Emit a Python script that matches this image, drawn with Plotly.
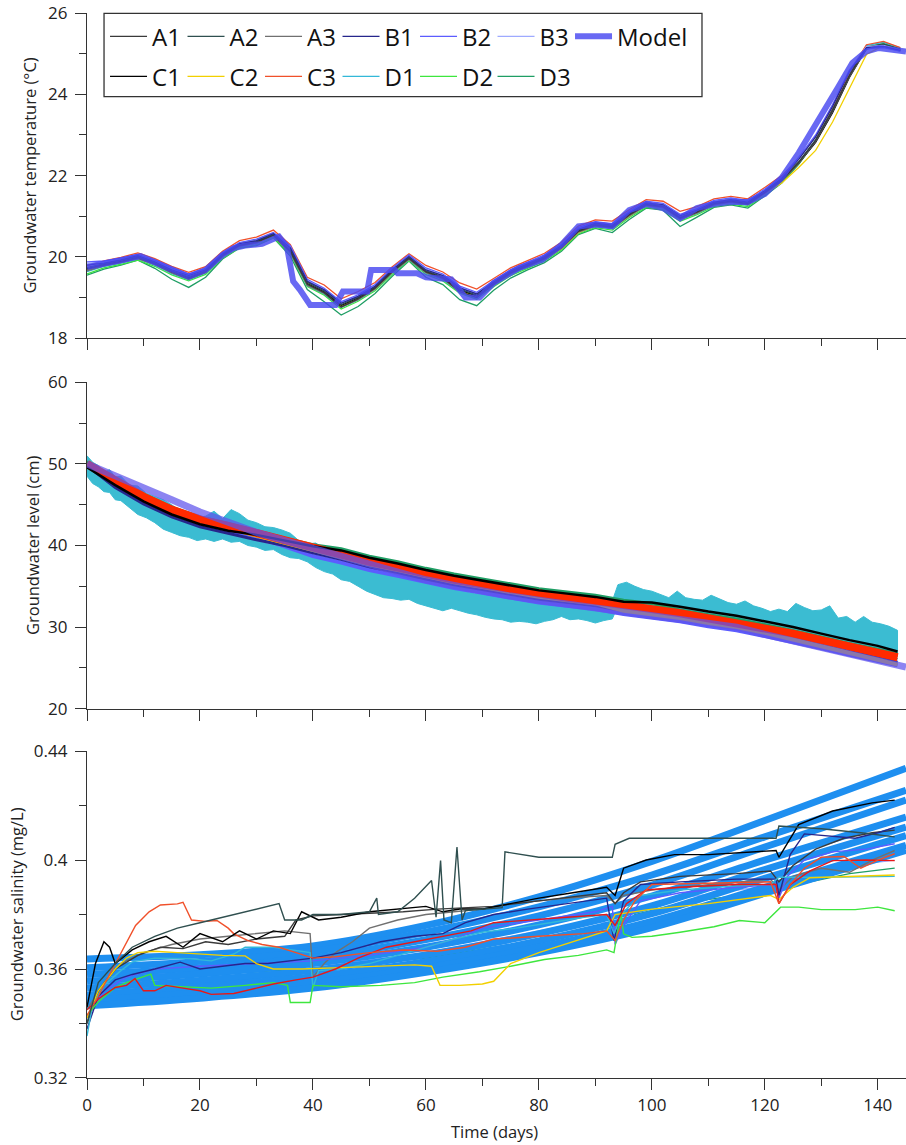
import plotly.graph_objects as go

# ------------------------------------------------------------------ DATA
SENSORS = ["A1", "A2", "A3", "B1", "B2", "B3", "C1", "C2", "C3", "D1", "D2", "D3"]
COLORS = {"A1": "#3a3a3a", "A2": "#2f4f4f", "A3": "#707070", "B1": "#26268c",
          "B2": "#5c5cff", "B3": "#9eaaff", "C1": "#000000", "C2": "#f2d000",
          "C3": "#f0502a", "D1": "#33b8d8", "D2": "#3ee63e", "D3": "#1f9e64"}

# ---- panel 1: groundwater temperature (deg C), sampled every 3 days
DAYS_T = list(range(0, 145, 3))
TEMP = {
 "A1": [19.70,19.80,19.88,19.98,19.83,19.63,19.47,19.63,20.03,20.28,20.36,20.53,20.13,19.33,19.12,18.77,18.97,19.23,19.63,19.96,19.63,19.48,19.15,19.00,19.33,19.60,19.78,19.96,20.23,20.63,20.78,20.73,21.03,21.28,21.23,20.95,21.10,21.30,21.36,21.30,21.58,21.88,22.32,22.86,23.60,24.46,25.13,25.20,25.08],
 "A2": [19.74,19.83,19.91,20.01,19.86,19.66,19.51,19.66,20.05,20.30,20.39,20.55,20.18,19.38,19.16,18.83,19.01,19.26,19.66,19.99,19.66,19.51,19.21,19.06,19.36,19.63,19.81,19.99,20.26,20.66,20.81,20.76,21.06,21.31,21.26,20.98,21.13,21.33,21.39,21.33,21.61,21.91,22.34,22.88,23.63,24.49,25.16,25.24,25.11],
 "A3": [19.66,19.78,19.86,19.96,19.81,19.61,19.45,19.61,20.01,20.26,20.34,20.51,20.10,19.30,19.10,18.76,18.95,19.21,19.61,19.94,19.61,19.46,19.14,19.00,19.31,19.58,19.76,19.94,20.21,20.61,20.76,20.71,21.01,21.26,21.21,20.92,21.08,21.28,21.34,21.28,21.56,21.86,22.30,22.84,23.58,24.44,25.11,25.18,25.06],
 "B1": [19.80,19.85,19.93,20.03,19.88,19.68,19.54,19.68,20.07,20.32,20.40,20.57,20.22,19.40,19.19,18.86,19.03,19.28,19.68,20.01,19.68,19.54,19.24,19.09,19.38,19.65,19.83,20.01,20.28,20.68,20.83,20.78,21.08,21.33,21.28,21.01,21.15,21.35,21.41,21.35,21.63,21.93,22.40,22.95,23.70,24.56,25.15,25.18,25.08],
 "B2": [19.88,19.90,19.97,20.06,19.92,19.73,19.58,19.72,20.10,20.35,20.44,20.60,20.28,19.45,19.23,18.90,19.07,19.32,19.72,20.05,19.73,19.58,19.28,19.13,19.42,19.69,19.87,20.05,20.32,20.72,20.87,20.82,21.12,21.37,21.32,21.05,21.19,21.39,21.45,21.39,21.67,21.97,22.45,23.00,23.75,24.60,25.13,25.15,25.06],
 "B3": [19.84,19.87,19.95,20.05,19.90,19.70,19.55,19.70,20.09,20.34,20.42,20.59,20.25,19.42,19.20,18.87,19.05,19.30,19.70,20.03,19.70,19.55,19.25,19.10,19.40,19.67,19.85,20.03,20.30,20.70,20.85,20.80,21.10,21.35,21.30,21.02,21.17,21.37,21.43,21.37,21.65,21.95,22.42,22.97,23.72,24.58,25.17,25.20,25.09],
 "C1": [19.71,19.81,19.89,19.99,19.84,19.64,19.49,19.64,20.04,20.29,20.37,20.54,20.14,19.34,19.14,18.81,18.99,19.24,19.64,19.97,19.64,19.49,19.19,19.04,19.34,19.61,19.79,19.97,20.24,20.64,20.79,20.74,21.04,21.29,21.24,20.96,21.11,21.31,21.37,21.31,21.59,21.89,22.30,22.82,23.55,24.42,25.12,25.22,25.10],
 "C2": [19.68,19.79,19.87,19.97,19.82,19.62,19.47,19.62,20.01,20.27,20.35,20.52,20.16,19.36,19.12,18.79,18.96,19.21,19.61,19.95,19.62,19.47,19.17,19.02,19.32,19.59,19.77,19.95,20.20,20.60,20.77,20.72,21.00,21.27,21.22,20.94,21.09,21.29,21.35,21.29,21.56,21.82,22.20,22.62,23.32,24.15,24.98,25.20,25.08],
 "C3": [19.78,19.90,19.99,20.10,19.96,19.77,19.62,19.76,20.14,20.40,20.49,20.66,20.30,19.50,19.31,18.97,19.15,19.37,19.75,20.08,19.79,19.63,19.36,19.21,19.47,19.73,19.91,20.09,20.36,20.76,20.91,20.88,21.16,21.41,21.37,21.12,21.24,21.43,21.49,21.43,21.71,22.00,22.42,22.96,23.70,24.55,25.22,25.30,25.15],
 "D1": [19.64,19.77,19.85,19.95,19.80,19.59,19.44,19.60,20.00,20.25,20.33,20.50,20.12,19.30,19.09,18.76,18.94,19.20,19.60,19.93,19.60,19.44,19.14,18.99,19.30,19.57,19.75,19.93,20.20,20.60,20.75,20.70,21.00,21.25,21.20,20.92,21.07,21.27,21.33,21.27,21.55,21.86,22.32,22.88,23.62,24.50,25.20,25.28,25.14],
 "D2": [19.58,19.73,19.82,19.92,19.77,19.56,19.41,19.57,19.97,20.22,20.30,20.47,20.08,19.27,19.06,18.72,18.91,19.17,19.57,19.92,19.57,19.41,19.11,18.96,19.27,19.54,19.72,19.90,20.17,20.57,20.72,20.66,20.97,21.22,21.17,20.88,21.04,21.24,21.30,21.24,21.52,21.84,22.30,22.86,23.62,24.48,25.16,25.25,25.12],
 "D3": [19.55,19.70,19.80,19.92,19.72,19.45,19.25,19.50,19.95,20.22,20.28,20.47,20.02,19.20,18.90,18.57,18.78,19.10,19.52,19.90,19.50,19.32,18.95,18.80,19.18,19.48,19.68,19.86,20.14,20.55,20.70,20.60,20.92,21.20,21.15,20.75,20.98,21.22,21.28,21.20,21.50,21.82,22.28,22.85,23.60,24.46,25.12,25.22,25.10],
}
MODEL_T_DAYS = [0,3,6,9.5,12,15,18,21,24,26,28,31,34,35.4,36.5,37.7,39.5,44,45.3,49.6,50.3,54.5,55,58.4,60,64.5,67,69.5,72,76.5,80.6,84,87,90,93,96,99,102,105,108,111,114,117,120,123,126,129.6,133,135.5,137.9,140.2,145]
MODEL_T = [19.75,19.85,19.92,20.02,19.88,19.70,19.52,19.68,20.05,20.22,20.28,20.32,20.50,20.25,19.40,19.19,18.82,18.82,19.15,19.15,19.68,19.68,19.60,19.60,19.50,19.45,19.00,19.00,19.36,19.73,19.93,20.30,20.75,20.80,20.75,21.15,21.30,21.20,20.95,21.20,21.30,21.35,21.35,21.55,21.95,22.56,23.37,24.18,24.77,25.05,25.14,25.05]

# ---- panel 2: groundwater level (cm), sampled every 5 days
DAYS_L = list(range(0, 141, 5)) + [143.5]
LEVEL = {
 "A1": [50.1,48.1,46.1,44.5,43.3,42.5,41.6,40.7,39.8,39.0,38.1,37.4,36.6,35.9,35.3,34.7,34.1,33.7,33.3,32.7,32.3,31.8,31.2,30.7,30.0,29.3,28.5,27.7,27.0,26.4],
 "A2": [49.8,47.8,45.8,44.2,43.0,42.2,41.3,40.4,39.5,38.7,37.8,37.1,36.3,35.6,35.0,34.4,33.8,33.4,33.0,32.4,32.0,31.5,30.9,30.4,29.7,29.0,28.2,27.4,26.7,26.1],
 "A3": [50.3,48.3,46.3,44.7,43.5,42.7,41.8,40.9,40.0,39.2,38.3,37.6,36.8,36.1,35.5,34.9,34.3,33.9,33.5,32.9,32.5,32.0,31.4,30.9,30.2,29.5,28.7,27.9,27.2,26.6],
 "B1": [49.8,47.1,45.1,43.5,42.3,41.5,40.7,40.0,39.1,38.3,37.4,36.7,35.9,35.2,34.6,34.0,33.4,33.0,32.6,32.0,31.6,31.1,30.5,30.0,29.3,28.6,27.8,27.0,26.3,25.7],
 "B2": [50.0,47.5,45.5,43.9,42.7,41.9,41.0,39.9,38.7,37.9,37.0,36.3,35.5,34.8,34.2,33.6,33.0,32.6,32.2,31.6,31.2,30.7,30.1,29.6,28.9,28.2,27.4,26.6,25.9,25.3],
 "B3": [49.9,47.3,45.3,43.7,42.5,41.7,40.8,39.9,39.0,38.2,37.3,36.6,35.8,35.1,34.5,33.9,33.3,32.9,32.5,31.9,31.5,31.0,30.4,29.9,29.2,28.5,27.7,26.9,26.2,25.6],
 "C1": [49.6,47.4,45.4,43.8,42.6,41.8,41.3,40.6,39.9,39.4,38.5,37.8,37.0,36.3,35.7,35.1,34.5,34.1,33.7,33.1,33.0,32.5,31.9,31.4,30.7,30.0,29.2,28.4,27.7,27.0],
 "C2": [49.8,47.7,45.7,44.1,42.9,42.1,41.2,40.3,39.4,38.6,37.7,37.0,36.2,35.5,34.9,34.3,33.7,33.3,32.9,32.0,31.6,31.1,30.5,30.0,29.3,28.5,27.7,26.8,26.0,25.4],
 "C3": [50.0,48.0,46.0,44.4,43.2,42.4,41.5,40.6,39.7,38.9,38.0,37.3,36.5,35.8,35.2,34.6,34.0,33.6,33.2,32.6,32.2,31.7,31.1,30.6,29.9,29.2,28.4,27.6,26.9,26.3],
 "D2": [50.2,48.2,46.2,44.6,43.4,42.6,41.7,40.8,39.9,39.1,38.2,37.5,36.7,36.0,35.4,34.8,34.2,33.8,33.4,32.8,32.4,31.9,31.3,30.8,30.1,29.4,28.6,27.8,27.1,26.5],
 "D3": [50.2,48.3,46.3,44.7,43.5,42.7,41.8,40.9,40.1,39.6,38.7,38.0,37.2,36.5,35.9,35.3,34.7,34.3,33.9,33.3,32.9,32.1,31.5,31.0,30.3,29.6,28.8,28.0,27.3,26.7],
}
# D1 level is very noisy: its lower and upper envelope, read every ~1.5-3 days
DAYS_D1 = [0,1,2,3,4,5,6,7.5,9,10.5,12,13.5,15,16.5,18,19.5,21,22.5,24,25.5,27,28.5,30,31.5,33,34.5,36,37.5,39,40.5,42,43.5,45,46.5,48,49.5,51,52.5,54,55.5,57,58.5,60,61.5,63,64.5,66,67.5,69,70.5,72,73.5,75,76.5,78,79.5,81,82.5,84,85.5,87,88.5,90,91.5,93,94,95.5,97,98.5,100,101.5,103,104.5,106,107.5,109,110.5,112,113.5,115,116.5,118,119.5,121,122.5,124,125.5,127,128.5,130,131.5,133,134.5,136,137.5,139,140.5,142,143.5]
D1_HIGH = [51.0,50.2,49.8,49.0,49.3,48.4,48.5,47.4,47.3,46.4,46.0,45.6,45.0,44.2,44.0,43.4,43.6,44.2,43.3,44.4,43.9,43.1,42.8,42.3,42.2,41.9,41.5,40.6,40.2,40.3,39.6,39.4,38.9,38.2,37.6,37.9,37.0,36.7,36.6,36.9,36.1,35.8,35.5,35.6,35.0,34.8,34.6,34.3,34.1,34.2,33.8,33.6,33.5,33.9,33.6,33.4,33.4,33.7,33.5,33.2,33.0,33.3,33.0,32.8,33.2,35.2,35.5,35.0,34.6,34.4,34.0,33.6,34.4,33.6,33.4,33.3,33.9,33.4,33.0,32.8,33.2,32.6,32.3,31.9,32.2,31.9,32.9,32.4,32.0,32.1,32.6,31.1,31.3,30.6,31.3,30.6,30.4,30.1,29.6]
D1_LOW = [48.5,47.6,47.2,46.6,46.5,45.6,45.5,44.6,43.8,43.4,42.8,42.0,41.6,41.2,41.0,40.6,40.8,40.5,40.8,40.4,40.5,40.0,39.8,39.4,39.5,38.9,38.5,38.4,38.0,37.3,36.8,36.5,35.8,35.6,35.0,34.4,34.0,33.6,33.5,33.3,33.4,32.9,32.6,32.3,32.0,32.3,32.0,31.7,31.5,31.2,31.0,30.9,30.6,30.7,30.6,30.4,30.7,30.9,31.3,30.9,31.0,30.8,30.5,30.8,31.0,32.6,32.4,32.6,32.3,32.4,32.0,32.1,31.8,31.9,31.7,31.5,31.1,31.2,30.9,30.8,30.7,30.5,30.4,30.2,29.9,29.9,29.7,29.4,29.0,28.8,28.6,28.3,28.0,27.6,27.4,27.2,27.0,26.8,26.6]
MODEL_L_DAYS = list(range(0, 146, 5))
MODEL_L = [50.0,48.6,47.1,45.6,44.1,42.8,41.6,40.6,39.6,38.6,37.6,36.7,35.8,35.1,34.4,33.8,33.3,32.8,32.3,31.8,31.4,30.9,30.5,30.0,29.1,28.3,27.6,26.8,26.0,25.1]

# ---- panel 3: groundwater salinity (mg/L)
SAL_DAYS = {
 "A1": [0,2,5,9,13,17,21,25,30,35,37,40,45,50,56,62,68,72,80,88,92,93.5,95,98,105,115,121,122.5,125,129,134,139,143],
 "A2": [0,2,5,8,12,16,20,24,28,32,34,35,38,40,45,50,51.3,51.6,55,58,61,61.8,62.6,63.2,64.5,65.5,66.4,67,73.5,74,80,93,93.5,96,122,122.5,130,137,143],
 "A3": [0,3,6,10,15,20,25,30,35,39.5,40,42,44,47,50,55,60,65,70,75,80,85,92,93.5,95,100,105,110,115,121,122.5,125,130,135,139,143],
 "B1": [0,2,5,8,12,16.5,20,24,28,32,36,40,45,52,58,63,67,72,78,85,92,93.3,95,98,105,115,122,122.5,124.5,127,130,136,140,143],
 "B2": [0,3,7,12,20,30,40,50,60,65,70,80,90,93,93.5,95,98,105,115,122,122.5,124,127,132,138,143],
 "B3": [0,5,15,30,45,60,75,90,93.5,97,105,115,122,128,135,143],
 "C1": [0,1.5,3,4,5,8,11,14,17,20,24,27,30,33,36,38,41,45,50,55,60,63,66,70,75,80,86,92,93.5,95,99,104,110,118,122,122.5,126,132,139,143],
 "C2": [0,2,5,7,9,12,16,20,24,28,30,33,38,45,52,58,61,62.5,66,70,72,75,80,86,92,93.5,95,100,110,118,121,122.5,125,128,135,143],
 "C3": [0,2,4,6,8.6,11,13,16,17,18.5,21,23,25,26,28.5,31,34,37,40,44,50,56,62,67,72,80,88,92,93.5,95,97,100,110,121,122.5,124.5,127,130,134,137,140,143],
 "D1": [0,1,3,6,8,12,18,22,26,28,33,37,39.5,40,41,45,50,55,60,65,70,76,82,88,92,93.3,95,98,105,115,121,122.5,130,143],
 "D2": [0,2,5,7,9,11.3,12,16,22,28,33,35.5,36,39.5,40,45,52,58,63,69.5,75,81,87,92,93.3,94.5,95,96.5,100,105,111,115.5,120,122.8,126,130,136,140,143],
 "D3": [0,4,10,20,30,45,60,75,90,93.5,97,105,115,122,128,135,143],
}
SAL = {
 "A1": [0.340,0.352,0.360,0.365,0.368,0.3675,0.370,0.369,0.371,0.372,0.378,0.3795,0.380,0.3805,0.381,0.382,0.3825,0.383,0.385,0.387,0.388,0.384,0.388,0.392,0.394,0.395,0.396,0.392,0.398,0.404,0.408,0.410,0.411],
 "A2": [0.340,0.355,0.362,0.368,0.372,0.375,0.377,0.379,0.381,0.383,0.384,0.378,0.378,0.380,0.380,0.381,0.386,0.380,0.381,0.386,0.3925,0.379,0.3998,0.378,0.377,0.4048,0.378,0.3815,0.3825,0.403,0.401,0.401,0.4058,0.408,0.408,0.4125,0.4115,0.410,0.4085],
 "A3": [0.345,0.355,0.362,0.366,0.369,0.371,0.372,0.373,0.374,0.373,0.357,0.362,0.366,0.370,0.375,0.378,0.380,0.381,0.382,0.384,0.385,0.386,0.387,0.384,0.387,0.389,0.390,0.391,0.392,0.393,0.389,0.394,0.397,0.3955,0.400,0.4035],
 "B1": [0.338,0.350,0.356,0.358,0.360,0.3625,0.360,0.361,0.362,0.362,0.363,0.364,0.366,0.370,0.372,0.373,0.377,0.380,0.382,0.384,0.386,0.3704,0.385,0.391,0.392,0.393,0.393,0.387,0.402,0.4096,0.409,0.408,0.410,0.412],
 "B2": [0.342,0.352,0.357,0.360,0.361,0.362,0.363,0.365,0.368,0.371,0.375,0.378,0.381,0.383,0.369,0.376,0.385,0.388,0.390,0.391,0.386,0.394,0.400,0.403,0.404,0.406],
 "B3": [0.348,0.356,0.359,0.360,0.362,0.366,0.372,0.378,0.376,0.382,0.386,0.389,0.391,0.394,0.398,0.400],
 "C1": [0.346,0.362,0.370,0.368,0.362,0.367,0.370,0.372,0.368,0.373,0.370,0.374,0.371,0.374,0.373,0.381,0.378,0.379,0.381,0.382,0.383,0.381,0.382,0.382,0.384,0.386,0.388,0.390,0.387,0.397,0.400,0.402,0.402,0.403,0.4035,0.401,0.413,0.418,0.421,0.422],
 "C2": [0.342,0.352,0.360,0.364,0.366,0.3665,0.366,0.3655,0.365,0.3648,0.362,0.360,0.360,0.3605,0.361,0.3615,0.361,0.354,0.354,0.3545,0.3555,0.362,0.366,0.370,0.374,0.380,0.3805,0.382,0.384,0.386,0.387,0.3855,0.390,0.3935,0.394,0.3945],
 "C3": [0.343,0.350,0.358,0.366,0.376,0.381,0.3835,0.3839,0.3845,0.378,0.3775,0.3778,0.375,0.3729,0.3704,0.369,0.368,0.366,0.364,0.3645,0.366,0.367,0.3665,0.368,0.371,0.372,0.373,0.374,0.3705,0.378,0.385,0.391,0.3915,0.392,0.384,0.391,0.397,0.401,0.4013,0.397,0.400,0.4023],
 "D1": [0.3354,0.347,0.354,0.3594,0.3626,0.364,0.3638,0.363,0.3655,0.368,0.368,0.3667,0.366,0.353,0.3594,0.360,0.362,0.365,0.368,0.371,0.3735,0.375,0.377,0.379,0.380,0.373,0.381,0.387,0.389,0.3905,0.391,0.3937,0.3937,0.394],
 "D2": [0.343,0.348,0.3532,0.355,0.3565,0.3581,0.354,0.3535,0.353,0.354,0.355,0.354,0.3477,0.3477,0.354,0.3535,0.354,0.355,0.357,0.359,0.361,0.3635,0.365,0.367,0.366,0.3808,0.3729,0.3716,0.372,0.3735,0.3755,0.3778,0.377,0.3827,0.3827,0.3818,0.3818,0.3827,0.3814],
 "D3": [0.346,0.353,0.356,0.358,0.359,0.361,0.364,0.369,0.375,0.373,0.380,0.384,0.387,0.389,0.392,0.395,0.397],
}
# second (bright red) salinity record
RED_DAYS = [0,2,5,7,8.5,10,12,14,17,20,22,26,30,33,37,40,44,48,53,58,63,68,72,78,85,92,93.5,95.5,99,105,115,122,122.5,124.5,128,132,138,143]
RED_SAL = [0.345,0.349,0.3532,0.354,0.3565,0.352,0.352,0.354,0.353,0.352,0.3507,0.351,0.353,0.3545,0.356,0.357,0.360,0.364,0.368,0.370,0.372,0.374,0.377,0.378,0.379,0.380,0.376,0.384,0.389,0.390,0.391,0.391,0.384,0.391,0.396,0.3998,0.400,0.3998]
# modelled salinity curves
MODEL_S_DAYS = [0,20,40,60,80,100,120,145]
MODEL_S = [
 [0.3637,0.3652,0.3685,0.3760,0.3865,0.3995,0.4145,0.4337],
 [0.3605,0.3628,0.3665,0.3735,0.3828,0.3945,0.4085,0.4256],
 [0.3580,0.3605,0.3642,0.3708,0.3795,0.3908,0.4048,0.4220],
 [0.3555,0.3582,0.3620,0.3680,0.3762,0.3868,0.4000,0.4158],
 [0.3530,0.3558,0.3595,0.3652,0.3730,0.3832,0.3965,0.4121],
 [0.3505,0.3535,0.3572,0.3627,0.3703,0.3803,0.3933,0.4090],
 [0.3485,0.3513,0.3550,0.3605,0.3680,0.3775,0.3900,0.4054],
 [0.3465,0.3493,0.3530,0.3588,0.3660,0.3752,0.3878,0.4036],
]

X_TICKS = [0, 20, 40, 60, 80, 100, 120, 140]
X_MINOR = [10, 30, 50, 70, 90, 110, 130]

# ------------------------------------------------------------------ FIGURE
FONT = "Open Sans"
fig = go.Figure()

# panel 1 (x / y)
order1 = ["D3", "D2", "D1", "C2", "C1", "A3", "A2", "A1", "C3", "B3", "B2", "B1"]
rank = {s: i for i, s in enumerate(SENSORS)}
for s in order1:
    fig.add_trace(go.Scatter(
        x=DAYS_T, y=TEMP[s], mode="lines", name=s,
        line=dict(color=COLORS[s], width=1.3),
        legend="legend" if s[0] in "AB" else "legend2",
        legendrank=rank[s], xaxis="x", yaxis="y"))
fig.add_trace(go.Scatter(
    x=MODEL_T_DAYS, y=MODEL_T, mode="lines", name="Model",
    line=dict(color="rgba(72,72,240,0.82)", width=6),
    legend="legend", legendrank=20, legendwidth=75, xaxis="x", yaxis="y"))

# panel 2 (x2 / y2)
fig.add_trace(go.Scatter(
    x=DAYS_D1 + DAYS_D1[::-1], y=D1_HIGH + D1_LOW[::-1], mode="lines",
    fill="toself", fillcolor="#3bbcd2", line=dict(color="#3bbcd2", width=1),
    showlegend=False, xaxis="x2", yaxis="y2"))
order2 = [("A2", 2), ("A3", 2), ("A1", 2), ("D2", 2), ("B3", 3), ("B2", 4),
          ("B1", 3), ("C2", 4), ("D3", 3), ("C3", 8), ("C1", 2.5)]
for s, w in order2:
    col = "#ff2a00" if s == "C3" else COLORS[s]
    fig.add_trace(go.Scatter(
        x=DAYS_L, y=LEVEL[s], mode="lines", line=dict(color=col, width=w),
        showlegend=False, xaxis="x2", yaxis="y2"))
fig.add_trace(go.Scatter(
    x=MODEL_L_DAYS, y=MODEL_L, mode="lines",
    line=dict(color="rgba(95,85,235,0.72)", width=7),
    showlegend=False, xaxis="x2", yaxis="y2"))

# panel 3 (x3 / y3)
for s in ["B3", "D3"]:
    fig.add_trace(go.Scatter(
        x=SAL_DAYS[s], y=SAL[s], mode="lines",
        line=dict(color=COLORS[s], width=1.3),
        showlegend=False, xaxis="x3", yaxis="y3"))
for curve in MODEL_S:
    fig.add_trace(go.Scatter(
        x=MODEL_S_DAYS, y=curve, mode="lines",
        line=dict(color="#1e8ff0", width=7, shape="spline"),
        showlegend=False, xaxis="x3", yaxis="y3"))
for s in ["A3", "A1", "B2", "B1", "D1", "D2", "C2", "C3", "C1", "A2"]:
    fig.add_trace(go.Scatter(
        x=SAL_DAYS[s], y=SAL[s], mode="lines",
        line=dict(color=COLORS[s], width=1.4),
        showlegend=False, xaxis="x3", yaxis="y3"))
    if s == "C2":
        fig.add_trace(go.Scatter(
            x=RED_DAYS, y=RED_SAL, mode="lines",
            line=dict(color="#e81818", width=1.4),
            showlegend=False, xaxis="x3", yaxis="y3"))

# ------------------------------------------------------------------ LAYOUT
AX = "#333333"
tickfont = dict(family=FONT, size=17, color="#222222")


def xax(anchor, labels):
    return dict(anchor=anchor, domain=[0, 1], range=[0, 145],
                tickmode="array", tickvals=X_TICKS, showticklabels=labels,
                ticks="outside", ticklen=11, tickwidth=1.2, tickcolor=AX,
                minor=dict(tickmode="array", tickvals=X_MINOR, ticks="outside",
                           ticklen=7, tickwidth=1.2, tickcolor=AX, showgrid=False),
                showline=True, linecolor=AX, linewidth=1.2, showgrid=False,
                zeroline=False, tickfont=tickfont)


def yax(anchor, domain, rng, vals, text, minor):
    return dict(anchor=anchor, domain=domain, range=rng,
                tickmode="array", tickvals=vals, ticktext=text,
                ticks="outside", ticklen=11, tickwidth=1.2, tickcolor=AX,
                minor=dict(tickmode="array", tickvals=minor, ticks="outside",
                           ticklen=7, tickwidth=1.2, tickcolor=AX, showgrid=False),
                showline=True, linecolor=AX, linewidth=1.2, showgrid=False,
                zeroline=False, tickfont=tickfont, ticklabelstandoff=4)


D1 = [0.6946, 1.0]
D2 = [0.3468, 0.6532]
D3 = [0.0, 0.3070]

legend_common = dict(orientation="h", xanchor="left", yanchor="middle",
                     x=0.022, bgcolor="rgba(0,0,0,0)", borderwidth=0,
                     font=dict(family=FONT, size=24, color="#111111"),
                     itemwidth=37, entrywidth=25.5, entrywidthmode="pixels",
                     traceorder="normal", itemclick=False, itemdoubleclick=False)

title_font = dict(family=FONT, size=16.5, color="#222222")
fig.update_layout(
    width=906, height=1145,
    margin=dict(l=87, r=0, t=13, b=67),
    paper_bgcolor="white", plot_bgcolor="white",
    showlegend=True, hovermode=False,
    font=dict(family=FONT, color="#222222"),
    xaxis=xax("y", False),
    xaxis2=xax("y2", False),
    xaxis3=xax("y3", True),
    yaxis=yax("x", D1, [18, 26], [18, 20, 22, 24, 26],
              ["18", "20", "22", "24", "26"], [19, 21, 23, 25]),
    yaxis2=yax("x2", D2, [20, 60], [20, 30, 40, 50, 60],
               ["20", "30", "40", "50", "60"], [25, 35, 45, 55]),
    yaxis3=yax("x3", D3, [0.31999, 0.44001], [0.32, 0.36, 0.40, 0.44],
               ["0.32", "0.36", "0.4", "0.44"], [0.34, 0.38, 0.42]),
    legend=dict(legend_common, y=0.9777),
    legend2=dict(legend_common, y=0.9402),
    shapes=[dict(type="rect", xref="paper", yref="paper",
                 x0=0.0208, x1=0.7509, y0=0.9214, y1=0.9997,
                 line=dict(color=AX, width=1.3), fillcolor="rgba(0,0,0,0)",
                 layer="above")],
    annotations=[
        dict(text="Groundwater temperature (°C)", xref="paper", yref="paper",
             x=-0.0696, y=sum(D1) / 2, textangle=-90, showarrow=False,
             xanchor="center", yanchor="middle", font=title_font),
        dict(text="Groundwater level (cm)", xref="paper", yref="paper",
             x=-0.0665, y=sum(D2) / 2, textangle=-90, showarrow=False,
             xanchor="center", yanchor="middle", font=title_font),
        dict(text="Groundwater salinity (mg/L)", xref="paper", yref="paper",
             x=-0.0858, y=sum(D3) / 2, textangle=-90, showarrow=False,
             xanchor="center", yanchor="middle", font=title_font),
        dict(text="Time (days)", xref="paper", yref="paper",
             x=0.498, y=-0.0504, showarrow=False,
             xanchor="center", yanchor="middle", font=title_font),
    ],
)

fig.write_html("out.html")
